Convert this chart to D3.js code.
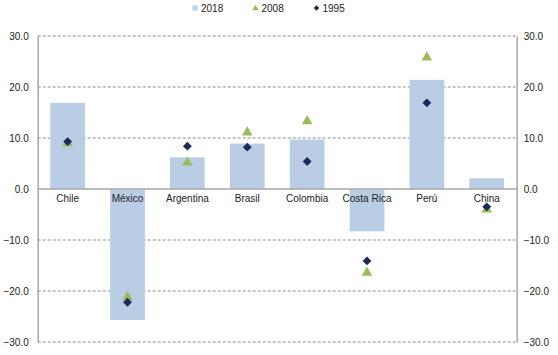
<!DOCTYPE html>
<html>
<head>
<meta charset="utf-8">
<script src="https://cdn.jsdelivr.net/npm/d3@7"></script>
<style>
  body { margin: 0; background: #fff; }
  text { font-family: "Liberation Sans", Arial, sans-serif; font-size: 10px; fill: #222; }
</style>
</head>
<body>
<svg width="558" height="355"></svg>
<script>
// data
var countries = ["Chile", "México", "Argentina", "Brasil", "Colombia", "Costa Rica", "Perú", "China"];
var v2018 = [16.9, -25.7, 6.2, 8.9, 9.7, -8.3, 21.4, 2.1];
var v2008 = [9.0, -21.2, 5.2, 11.1, 13.3, -16.4, 25.8, -4.0];
var v1995 = [9.3, -22.2, 8.4, 8.2, 5.4, -14.1, 16.9, -3.5];
var yTicks = [-30, -20, -10, 0, 10, 20, 30];

var barColor = "#b9cde5", triColor = "#9bbb59", diaColor = "#1c2a5a";

var svg = d3.select("svg"),
    plotL = 37.7, plotR = 516.7, plotT = 36, plotB = 342;

var x = d3.scaleBand().domain(countries).range([plotL, plotR]).paddingInner(0.42).paddingOuter(0.21);
var y = d3.scaleLinear().domain([-30, 30]).range([plotB, plotT]);

// dashed gridlines
svg.append("g").selectAll("line")
  .data(yTicks.filter(function(d){ return d != 0; }))
  .enter().append("line")
  .attr("x1", plotL).attr("x2", plotR)
  .attr("y1", function(d){ return y(d); }).attr("y2", function(d){ return y(d); })
  .attr("stroke", "#8c8c8c").attr("stroke-width", 1)
  .attr("stroke-dasharray", "3,2");

// bars
svg.append("g").selectAll("rect")
  .data(countries)
  .enter().append("rect")
  .attr("x", function(d){ return x(d); })
  .attr("width", x.bandwidth())
  .attr("y", function(d, i){ return y(Math.max(0, v2018[i])); })
  .attr("height", function(d, i){ return Math.abs(y(v2018[i]) - y(0)); })
  .attr("fill", barColor);

// zero line
svg.append("line")
  .attr("x1", plotL).attr("x2", plotR)
  .attr("y1", y(0)).attr("y2", y(0))
  .attr("stroke", "#a6a6a6").attr("stroke-width", 1.5);

// axes
var yAxisL = d3.axisLeft(y).tickValues(yTicks).tickSize(0).tickPadding(9).tickFormat(d3.format(".1f"));
var yAxisR = d3.axisRight(y).tickValues(yTicks).tickSize(0).tickPadding(7).tickFormat(d3.format(".1f"));

var gl = svg.append("g").attr("transform", "translate(" + plotL + ",0)").call(yAxisL);
var gr = svg.append("g").attr("transform", "translate(" + plotR + ",0)").call(yAxisR);
[gl, gr].forEach(function(g){
  g.select(".domain").attr("stroke", "#a6a6a6").attr("stroke-width", 1.5);
  g.selectAll("text").style("font-family", "Liberation Sans, Arial, sans-serif").style("font-size", "10px").attr("fill", "#222");
});

// category labels
svg.append("g").selectAll("text")
  .data(countries)
  .enter().append("text")
  .attr("x", function(d){ return x(d) + x.bandwidth() / 2; })
  .attr("y", y(0) + 13)
  .attr("text-anchor", "middle")
  .text(function(d){ return d; });

// 2008 triangles
var tri = d3.symbol().type(d3.symbolTriangle).size(48);
svg.append("g").selectAll("path")
  .data(countries)
  .enter().append("path")
  .attr("d", tri)
  .attr("transform", function(d, i){ return "translate(" + (x(d) + x.bandwidth() / 2) + "," + y(v2008[i]) + ")"; })
  .attr("fill", triColor);

// 1995 diamonds
var dia = d3.symbol().type(d3.symbolDiamond2).size(50);
svg.append("g").selectAll("path")
  .data(countries)
  .enter().append("path")
  .attr("d", dia)
  .attr("transform", function(d, i){ return "translate(" + (x(d) + x.bandwidth() / 2) + "," + y(v1995[i]) + ")"; })
  .attr("fill", diaColor);

// legend
var legend = svg.append("g");
legend.append("rect").attr("x", 192.5).attr("y", 5.5).attr("width", 5).attr("height", 5).attr("fill", barColor);
legend.append("text").attr("x", 201).attr("y", 12).text("2018");
legend.append("path").attr("d", d3.symbol().type(d3.symbolTriangle).size(18))
  .attr("transform", "translate(255.5,8.5)").attr("fill", triColor);
legend.append("text").attr("x", 261.5).attr("y", 12).text("2008");
legend.append("path").attr("d", d3.symbol().type(d3.symbolDiamond2).size(20))
  .attr("transform", "translate(316.5,8)").attr("fill", diaColor);
legend.append("text").attr("x", 322.5).attr("y", 12).text("1995");
</script>
</body>
</html>
